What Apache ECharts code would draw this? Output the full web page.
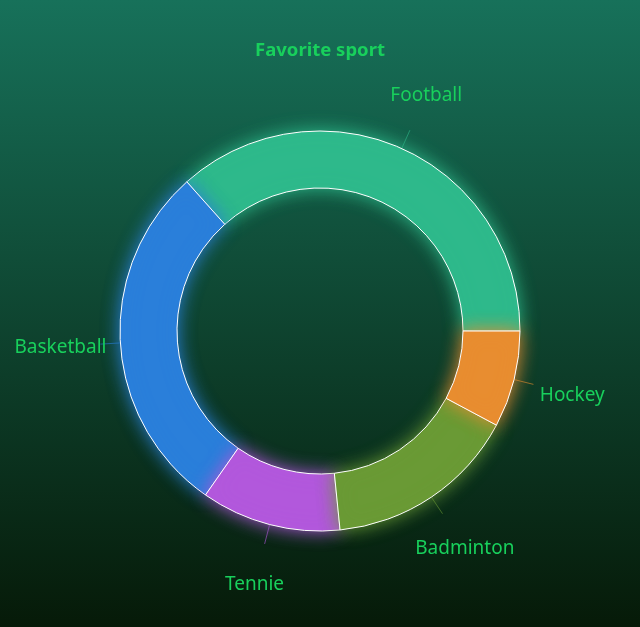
<!DOCTYPE html>
<html>
<head>
<meta charset="utf-8">
<script src="https://cdn.jsdelivr.net/npm/echarts@6/dist/echarts.min.js"></script>
<style>
html, body { margin: 0; padding: 0; }
#container { width: 640px; height: 627px; }
</style>
</head>
<body>
<div id="container"></div>
<script>
// drawn counterclockwise from 3 o'clock
var sports = ['Football', 'Basketball', 'Tennie', 'Badminton', 'Hockey'];
var shares = [36.6, 28.7, 11.3, 15.6, 7.8];
var colors = ['#2eb98b', '#2a7fda', '#b258dc', '#6a9a35', '#e88d30'];

window.onload = function()
{
var myChart = echarts.init(document.getElementById('container'));

var data = sports.map(function (name, i) {
    return {
        name: name,
        value: shares[i],
        itemStyle: { color: colors[i], shadowColor: colors[i] },
        labelLine: { lineStyle: { color: colors[i] } }
    };
});

option = {
    animation: false,
    backgroundColor: new echarts.graphic.LinearGradient(0, 0, 0, 1, [
        { offset: 0, color: '#17715a' },
        { offset: 1, color: '#061a08' }
    ]),
    title : {
        text: 'Favorite sport',
        left: 'center',
        top: 36,
        textStyle: {
            color: '#18d05c',
            fontSize: 18.5,
            fontWeight: 'bold',
            fontFamily: 'Noto Sans'
        }
    },
    series : [
        {
            type: 'pie',
            name: 'Favorite sport',
            center: ['50%', 331],
            radius: [143, 200],
            startAngle: 0,
            clockwise: false,
            itemStyle: {
                borderColor: '#ffffff',
                borderWidth: 1,
                shadowBlur: 18
            },
            label: {
                show: true,
                position: 'outside',
                overflow: 'none',
                edgeDistance: 0,
                color: '#18d05c',
                fontSize: 19,
                fontFamily: 'Noto Sans'
            },
            labelLine: {
                show: true,
                length: 20,
                length2: 0,
                lineStyle: { width: 1, opacity: 0.6 }
            },
            labelLayout: function (params) {
                var pts = params.labelLinePoints;
                if (!pts) return {};
                var dx = pts[1][0] - pts[0][0], dy = pts[1][1] - pts[0][1];
                var len = Math.sqrt(dx * dx + dy * dy) || 1;
                return {
                    x: pts[0][0] + dx / len * 60,
                    y: pts[0][1] + dy / len * 60 + 1.5,
                    align: 'center',
                    verticalAlign: 'middle',
                    labelLinePoints: [pts[0], pts[1], pts[1]]
                };
            },
            data: data
        }
    ]
};

myChart.setOption(option);
};
</script>
</body>
</html>
